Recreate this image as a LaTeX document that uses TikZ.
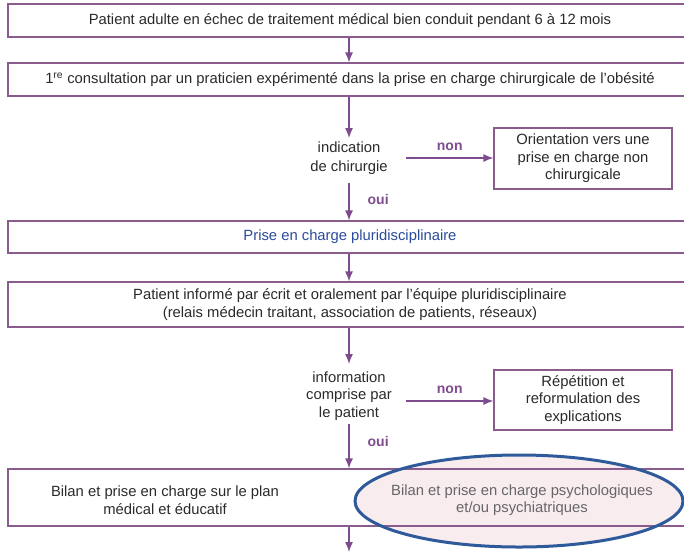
\documentclass[tikz,border=0pt]{standalone}
\usepackage{fontspec}
\setmainfont{Liberation Sans}
\usetikzlibrary{arrows.meta,shapes.geometric}
\definecolor{boxc}{HTML}{8A5C8E}
\definecolor{arrc}{HTML}{7E4C8E}
\definecolor{txtc}{HTML}{2A2A2A}
\definecolor{bluet}{HTML}{2B4C9B}
\definecolor{ellc}{HTML}{2E5A9A}
\definecolor{pinkc}{HTML}{F8ECEF}
\begin{document}
\begin{tikzpicture}[x=1pt,y=-1pt,
  every node/.style={font=\fontsize{14.8}{17.5}\selectfont, text=txtc, inner sep=0pt},
  wbox/.style={draw=boxc, line width=1.1pt, fill=white, minimum width=684pt, align=center},
  sbox/.style={draw=boxc, line width=1.1pt, fill=white, minimum width=178pt, minimum height=61pt, align=center},
  dec/.style={align=center},
  arr/.style={draw=arrc, line width=1.3pt, -{Latex[length=10pt,width=8pt]}},
  lab/.style={text=arrc, font=\fontsize{14}{16}\selectfont\bfseries}
]
\useasboundingbox (0,0) rectangle (684,552);
\begin{scope}
\clip (0,0) rectangle (684,552);
\node[wbox, minimum height=33pt] (b1) at (350,20.5) {Patient adulte en échec de traitement médical bien conduit pendant 6 à 12 mois};
\node[wbox, minimum height=33pt] (b2) at (350,79.5) {1\textsuperscript{re} consultation par un praticien expérimenté dans la prise en charge chirurgicale de l’obésité};
\node[dec, font=\fontsize{14.8}{19.5}\selectfont] (d1) at (349,158) {indication\\de chirurgie};
\node[sbox] (r1) at (583,158.5) {Orientation vers une\\prise en charge non\\chirurgicale};
\node[wbox, minimum height=32pt, text=bluet] (b3) at (350,237) {Prise en charge pluridisciplinaire};
\node[wbox, minimum height=45pt] (b4) at (350,304.5) {Patient informé par écrit et oralement par l’équipe pluridisciplinaire\\(relais médecin traitant, association de patients, réseaux)};
\node[dec] (d2) at (349,396) {information\\comprise par\\le patient};
\node[sbox, minimum height=60pt] (r2) at (583,400) {Répétition et\\reformulation des\\explications};
\fill[pinkc] (519,501) ellipse [x radius=164pt, y radius=46pt];
\node[wbox, minimum height=57pt, fill=none] (b5) at (350,497.5) {};
\node[align=center] (t5a) at (165,500) {Bilan et prise en charge sur le plan\\médical et éducatif};
\node[align=center, text=black!60] (t5b) at (522,500) {Bilan et prise en charge psychologiques\\et/ou psychiatriques};
\draw[ellc, line width=3pt] (519,501) ellipse [x radius=164pt, y radius=46pt];
\end{scope}
\coordinate (end) at (349,552);
\coordinate (n1s) at (406,158);
\coordinate (n2s) at (406,401);
\draw[arr] (b1.south -| 349,0) -- (b2.north -| 349,0);
\draw[arr] (b2.south -| 349,0) -- (349,138);
\draw[arr] (n1s) -- (r1.west |- n1s) node[lab, pos=0.5, above=7pt] {non};
\draw[arr] (349,183) -- (b3.north -| 349,0) node[lab, pos=0.45, right=18pt] {oui};
\draw[arr] (b3.south -| 349,0) -- (b4.north -| 349,0);
\draw[arr] (b4.south -| 349,0) -- (349,364);
\draw[arr] (n2s) -- (r2.west |- n2s) node[lab, pos=0.5, above=7pt] {non};
\draw[arr] (349,424) -- (b5.north -| 349,0) node[lab, pos=0.4, right=18pt] {oui};
\draw[arr] (b5.south -| 349,0) -- (end);
\end{tikzpicture}
\end{document}
